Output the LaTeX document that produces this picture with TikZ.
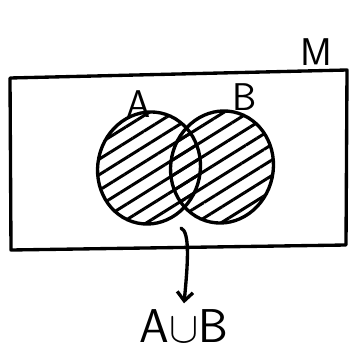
\documentclass[tikz,border=0pt]{standalone}
\usetikzlibrary{arrows.meta,shapes.geometric,patterns.meta}
\tikzset{
  every picture/.style={line join=round, line cap=round, >=Stealth},
  pen/.style={line width=1.9pt},
  setbox/.style={ellipse, draw, pen, minimum width=2.05cm, minimum height=2.25cm,
    pattern={Lines[angle=32,distance=7.5pt,line width=1.7pt]}},
  hand/.style={font=\sffamily\fontsize{22}{22}\selectfont},
}
\begin{document}
\begin{tikzpicture}[x=0.02cm,y=-0.02cm]
\useasboundingbox (0,0) rectangle (350,361);
% universe M
\draw[pen] (10,78) -- (347,70) -- (346,245) -- (11,250) -- cycle;
\node[hand] (m) at (316,52) {M};
% the two sets
\node[setbox, rotate=-12] (a) at (149,168) {};
\node[setbox, rotate=-12] (b) at (222,167) {};
\node[hand] (la) at (139,104) {A};
\node[hand] (lb) at (245,97) {B};
% pointer to the union
\coordinate (s) at (181,228);
\node[hand, font=\sffamily\fontsize{27}{27}\selectfont] (ab) at (184,326) {A$\cup$B};
\draw[pen, -{Straight Barb[length=5pt,width=9pt]}] (s) .. controls (190,232) and (188,262) .. (ab.north);
\end{tikzpicture}
\end{document}
